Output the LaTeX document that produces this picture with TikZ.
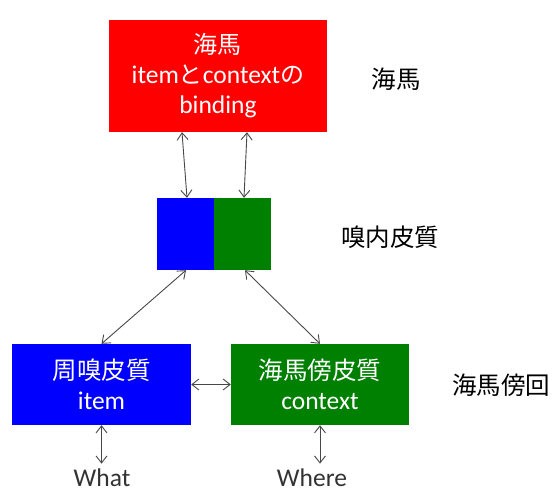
\documentclass[tikz,border=0pt]{standalone}
\usepackage{fontspec}
\setmainfont{Carlito}
\newfontfamily\cjk{Noto Sans CJK JP}
\usetikzlibrary{arrows.meta}
\definecolor{hipred}{HTML}{FF0000}
\definecolor{perblue}{HTML}{0000FF}
\definecolor{pargreen}{HTML}{008000}
\begin{document}
\begin{tikzpicture}[x=1pt,y=-1pt,
  boxtext/.style={inner sep=0pt, text=white, align=center, font=\fontsize{25.5}{30}\selectfont},
  plain/.style={inner sep=0pt},
  lbl/.style={font=\cjk\fontsize{24.5}{30}\selectfont, text=black, inner sep=0pt},
  word/.style={font=\fontsize{25.5}{30}\selectfont, text=black!80, inner sep=0pt, anchor=base},
  conn/.style={draw=black!72, line width=0.9pt,
    {Straight Barb[length=7pt,width=11pt]}-{Straight Barb[length=7pt,width=11pt]}}]
\useasboundingbox (0,0) rectangle (555,490);

\node[boxtext, fill=hipred, minimum width=218pt, minimum height=112pt] (hip) at (218,76)
  {{\cjk\fontsize{24}{30}\selectfont 海馬}\\item{\cjk\fontsize{24}{30}\selectfont と}context{\cjk\fontsize{24}{30}\selectfont の}\\binding};
\node[plain, fill=perblue, minimum width=57pt, minimum height=72pt] (entoL) at (185.5,234) {};
\node[plain, fill=pargreen, minimum width=57pt, minimum height=72pt] (entoR) at (242.5,234) {};
\node[boxtext, fill=perblue, minimum width=179pt, minimum height=81pt] (peri) at (101.5,384.5)
  {{\cjk\fontsize{24.5}{30}\selectfont 周嗅皮質}\\item};
\node[boxtext, fill=pargreen, minimum width=178pt, minimum height=81pt] (para) at (320,384.5)
  {{\cjk\fontsize{24.5}{30}\selectfont 海馬傍皮質}\\context};

\node[lbl] (lhip) at (396,79) {海馬};
\node[lbl] (lento) at (390,237) {嗅内皮質};
\node[lbl] (lpara) at (501,385) {海馬傍回};

\node[word] (what) at (102,486.5) {What};
\node[word] (where) at (312,486.5) {Where};

\draw[conn] ([xshift=-36pt]hip.south) -- ([xshift=1.5pt]entoL.north);
\draw[conn] ([xshift=29pt]hip.south) -- ([xshift=1.5pt]entoR.north);
\draw[conn] ([xshift=0.5pt]entoL.south) -- (peri.north);
\draw[conn] ([xshift=2.5pt]entoR.south) -- (para.north);
\draw[conn] (peri.east) -- (para.west);
\draw[conn, shorten >=5pt] (peri.south) -- (peri.south |- what.north);
\draw[conn, shorten >=5pt] (para.south) -- (para.south |- where.north);
\end{tikzpicture}
\end{document}
